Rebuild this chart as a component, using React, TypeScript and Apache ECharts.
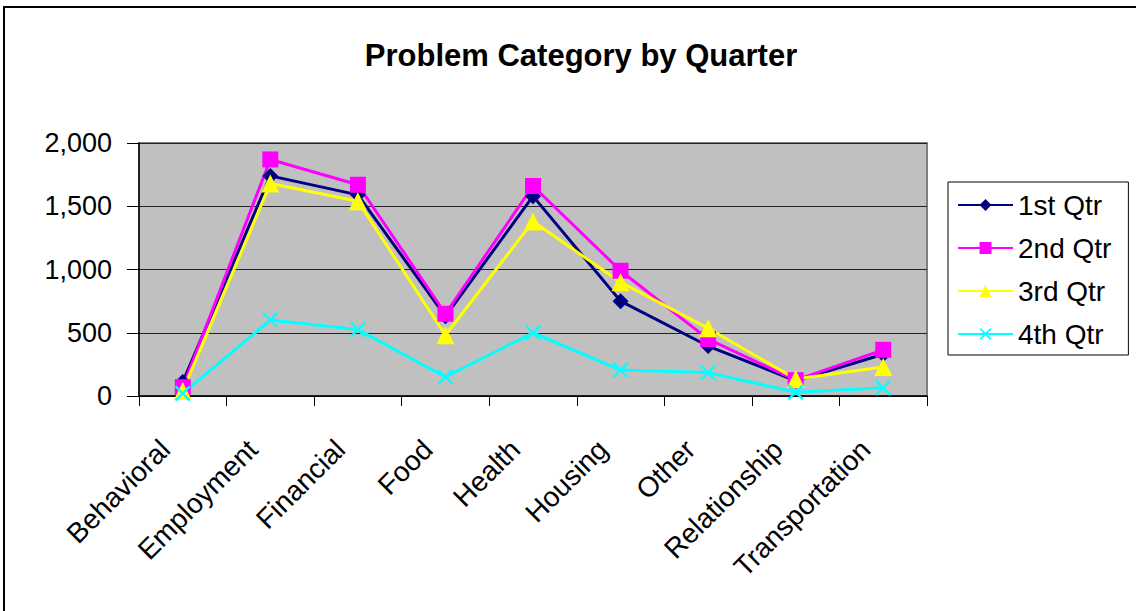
import React, { useEffect, useRef } from "react";
import * as echarts from "echarts";

const categories = ["Behavioral", "Employment", "Financial", "Food", "Health", "Housing", "Other", "Relationship", "Transportation"];
const seriesNames = ["1st Qtr", "2nd Qtr", "3rd Qtr", "4th Qtr"];
const q1 = [110, 1740, 1590, 630, 1580, 750, 395, 120, 330];
const q2 = [70, 1870, 1670, 650, 1660, 990, 450, 125, 365];
const q3 = [40, 1680, 1540, 480, 1380, 900, 535, 135, 230];
const q4 = [20, 600, 525, 150, 500, 205, 185, 30, 65];
const yTicks = [0, 500, 1000, 1500, 2000];

const FONT = "'Liberation Sans', Arial, Helvetica, sans-serif";
const X_SYMBOL = "path://M0,1 L1,0 L5,4 L9,0 L10,1 L6,5 L10,9 L9,10 L5,6 L1,10 L0,9 L4,5 Z";

export default function App() {
  const ref = useRef<HTMLDivElement>(null);
  useEffect(() => {
    if (!ref.current) return;
    const chart = echarts.init(ref.current, null, { renderer: "svg" });
    const mk = (name: string, data: number[], color: string, symbol: string, size: number) => ({
      name,
      type: "line",
      data,
      symbol,
      symbolSize: size,
      lineStyle: { color, width: 3 },
      itemStyle: { color, borderColor: color, borderWidth: 0 },
      emphasis: { disabled: true },
    });
    chart.setOption({
      animation: false,
      backgroundColor: "#ffffff",
      title: {
        text: "Problem Category by Quarter",
        left: 576,
        textAlign: "center",
        top: 35,
        textStyle: { fontFamily: FONT, fontSize: 31, fontWeight: "bold", color: "#000" },
      },
      legend: {
        orient: "vertical",
        left: 948,
        top: 182,
        padding: [9, 17, 7, 9],
        itemGap: 15,
        itemWidth: 55,
        itemHeight: 15,
        borderColor: "#000",
        borderWidth: 1,
        backgroundColor: "#fff",
        data: seriesNames,
        textStyle: { fontFamily: FONT, fontSize: 28, color: "#000" },
      },
      grid: {
        left: 139,
        top: 143,
        width: 788,
        height: 253,
        show: true,
        backgroundColor: "#c0c0c0",
        borderColor: "#808080",
        borderWidth: 2,
      },
      xAxis: {
        type: "category",
        data: categories,
        boundaryGap: true,
        axisLine: { lineStyle: { color: "#000", width: 1.5 } },
        axisTick: { show: true, length: 10, lineStyle: { color: "#000" } },
        axisLabel: {
          rotate: 45,
          interval: 0,
          margin: 31,
          padding: [0, 25, 0, 0],
          fontFamily: FONT,
          fontSize: 28,
          color: "#000",
        },
      },
      yAxis: {
        type: "value",
        min: 0,
        max: 2000,
        interval: 500,
        axisLine: { show: true, lineStyle: { color: "#000", width: 1.5 } },
        axisTick: { show: true, length: 12, lineStyle: { color: "#000" } },
        splitLine: { show: true, lineStyle: { color: "#222", width: 1 } },
        axisLabel: {
          margin: 27,
          fontFamily: FONT,
          fontSize: 27,
          color: "#000",
          formatter: (v: number) => (yTicks.includes(v) ? v.toLocaleString("en-US") : ""),
        },
      },
      series: [
        mk(seriesNames[0], q1, "#000080", "diamond", 16),
        mk(seriesNames[1], q2, "#ff00ff", "rect", 16),
        mk(seriesNames[2], q3, "#ffff00", "triangle", 18),
        mk(seriesNames[3], q4, "#00ffff", X_SYMBOL, 16),
      ],
      graphic: [
        {
          type: "rect",
          shape: { x: 4, y: 7, width: 1200, height: 700 },
          style: { fill: "none", stroke: "#000", lineWidth: 2 },
          silent: true,
          z: 100,
        },
      ],
    });
    return () => chart.dispose();
  }, []);
  return (
    <div
      ref={ref}
      style={{ position: "fixed", left: 0, top: 0, width: 1136, height: 611 }}
    />
  );
}
